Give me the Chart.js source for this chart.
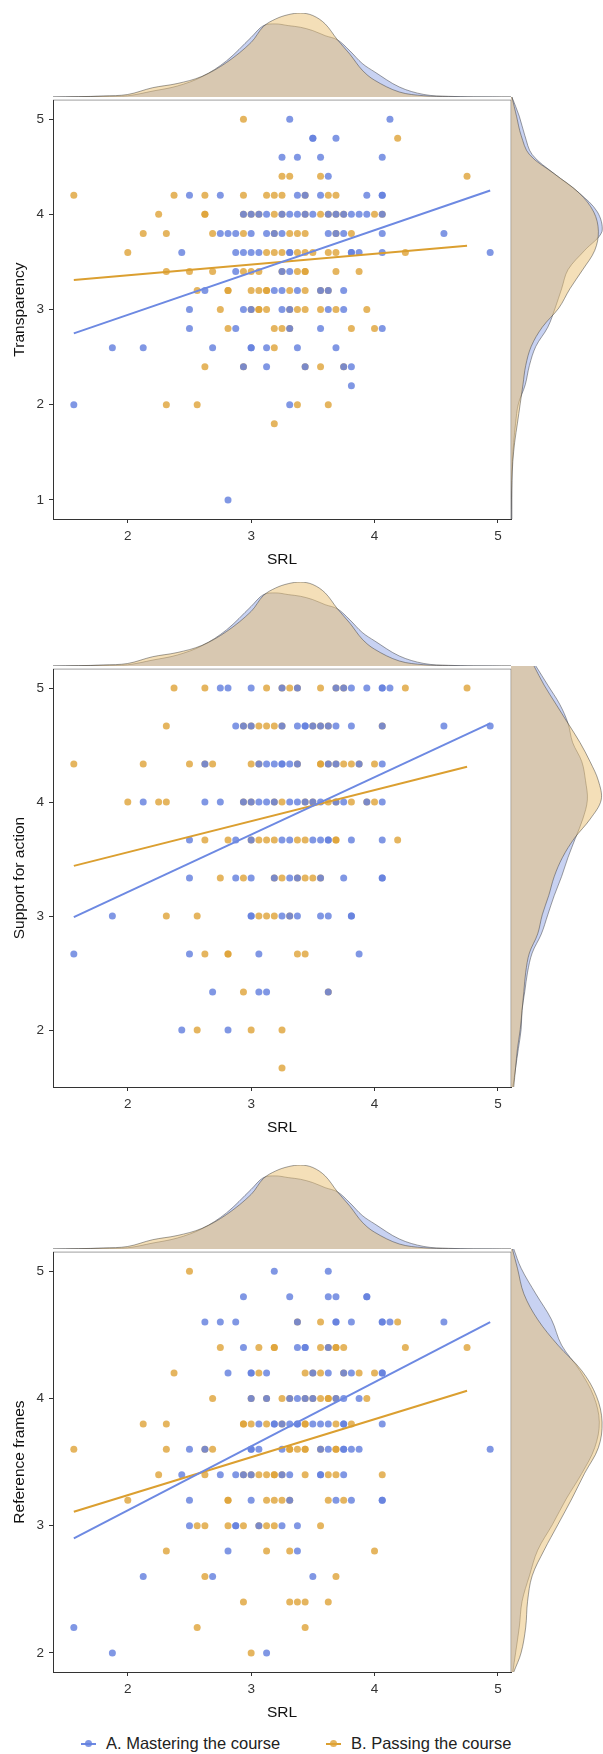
<!DOCTYPE html>
<html>
<head>
<meta charset="utf-8">
<script src="https://cdn.jsdelivr.net/npm/chart.js@4.4.1/dist/chart.umd.min.js"></script>
<style>
  html, body { margin: 0; padding: 0; background: #fff; }
  body { width: 603px; height: 1754px; position: relative; overflow: hidden;
         font-family: 'Liberation Sans', Arial, sans-serif; }
  .box { position: absolute; }
  .key { position: absolute; width: 15px; height: 8px; }
  .key .ln { position: absolute; left: 0; top: 3px; width: 15px; height: 2px; }
  .key .dt { position: absolute; left: 4px; top: 0; width: 7px; height: 7px; border-radius: 50%; }
  .lab { position: absolute; font-size: 16.5px; color: #222; line-height: 20px; white-space: nowrap; }
</style>
</head>
<body>
<script>
// SRL marginal density (shared by all three panels)
const srlGrid = [1.39, 1.6, 1.8, 2.0, 2.2, 2.4, 2.6, 2.8, 3.0, 3.1, 3.2, 3.3, 3.4, 3.5, 3.6, 3.7, 3.8, 3.9, 4.0, 4.2, 4.4, 4.6, 4.8, 5.11];
const srlDensityA = [0, 0.004, 0.008, 0.015, 0.07, 0.13, 0.24, 0.43, 0.71, 0.85, 0.87, 0.85, 0.83, 0.79, 0.73, 0.68, 0.55, 0.40, 0.30, 0.12, 0.03, 0.008, 0.002, 0];
const srlDensityB = [0, 0.004, 0.012, 0.03, 0.11, 0.16, 0.245, 0.41, 0.65, 0.84, 0.93, 0.98, 1.0, 0.97, 0.87, 0.68, 0.51, 0.32, 0.20, 0.06, 0.015, 0.004, 0, 0];

// Transparency
const transparencyTicks = [1, 2, 3, 4, 5];
const transparencyA = [
  [5.0, [3.3125, 4.125]],
  [4.8, [3.5, 3.5, 3.6875]],
  [4.6, [3.25, 3.375, 3.5625, 4.0625]],
  [4.4, [3.625]],
  [4.2, [2.5, 2.75, 3.375, 3.4375, 3.5625, 3.9375, 4.0625, 4.0625]],
  [4.0, [2.9375, 3.0, 3.0625, 3.125, 3.25, 3.3125, 3.375, 3.4375, 3.5, 3.625, 3.6875, 3.75, 3.8125, 3.875, 3.9375, 4.0625]],
  [3.8, [2.75, 2.8125, 2.875, 3.0, 3.125, 3.1875, 3.25, 3.625, 3.6875, 3.75, 4.0625, 4.5625]],
  [3.6, [2.4375, 2.875, 2.9375, 3.0, 3.0625, 3.3125, 3.3125, 3.8125, 3.8125, 3.875, 4.0625, 4.9375]],
  [3.4, [2.875, 3.25, 3.3125]],
  [3.2, [2.625, 3.1875, 3.25, 3.375, 3.5625, 3.625, 3.75]],
  [3.0, [2.5, 2.9375, 3.0, 3.25, 3.3125, 3.625, 3.75]],
  [2.8, [2.5, 2.875, 3.3125, 3.5625, 4.0625]],
  [2.6, [1.875, 2.125, 2.6875, 3.0, 3.0, 3.125, 3.375, 3.6875]],
  [2.4, [2.9375, 3.125, 3.4375, 3.75, 3.8125]],
  [2.2, [3.8125]],
  [2.0, [1.5625, 3.3125]],
  [1.0, [2.8125]]
];
const transparencyB = [
  [5.0, [2.9375]],
  [4.8, [4.1875]],
  [4.4, [3.25, 3.3125, 3.5625, 4.75]],
  [4.2, [1.5625, 2.375, 2.625, 2.9375, 3.125, 3.1875, 3.25, 3.4375, 3.625, 3.6875]],
  [4.0, [2.25, 2.625, 2.625, 2.9375, 3.0, 3.0625, 3.1875, 3.25, 3.4375, 3.5625, 3.625, 3.6875, 3.75, 4.0, 4.0625]],
  [3.8, [2.125, 2.3125, 2.6875, 2.9375, 3.1875, 3.3125, 3.375, 3.4375, 3.6875, 3.8125]],
  [3.6, [2.0, 3.125, 3.1875, 3.25, 3.375, 3.4375, 3.5, 3.625, 3.6875, 4.25]],
  [3.4, [2.3125, 2.5, 2.6875, 2.9375, 3.0, 3.0625, 3.25, 3.375, 3.4375, 3.4375, 3.6875, 3.875]],
  [3.2, [2.5625, 2.8125, 2.8125, 3.0, 3.0625, 3.125, 3.125, 3.3125, 3.4375, 3.5625, 3.625]],
  [3.0, [2.75, 3.0, 3.0625, 3.0625, 3.125, 3.3125, 3.375, 3.4375, 3.5625, 3.6875, 3.9375]],
  [2.8, [2.8125, 3.1875, 3.25, 3.3125, 3.8125, 4.0]],
  [2.6, [3.1875]],
  [2.4, [2.625, 2.9375, 3.4375, 3.5625, 3.75]],
  [2.0, [2.3125, 2.5625, 3.375, 3.625]],
  [1.8, [3.1875]]
];
const transparencyLineA = [[1.5625, 2.75], [4.9375, 4.25]];
const transparencyLineB = [[1.5625, 3.31], [4.75, 3.67]];
const transparencyGrid = [0.8, 1.0, 1.2, 1.4, 1.6, 1.8, 2.0, 2.2, 2.4, 2.6, 2.8, 3.0, 3.2, 3.4, 3.6, 3.8, 4.0, 4.2, 4.4, 4.6, 4.8, 5.0, 5.2];
const transparencyDensityA = [0.01, 0.01, 0.01, 0.015, 0.03, 0.05, 0.08, 0.155, 0.20, 0.27, 0.40, 0.48, 0.55, 0.62, 0.80, 0.99, 0.94, 0.74, 0.47, 0.23, 0.15, 0.09, 0.01];
const transparencyDensityB = [0.003, 0.005, 0.01, 0.02, 0.04, 0.07, 0.10, 0.13, 0.16, 0.22, 0.34, 0.52, 0.64, 0.78, 0.91, 0.95, 0.90, 0.74, 0.47, 0.20, 0.11, 0.06, 0.01];

// Support for action
const supportTicks = [2, 3, 4, 5];
const supportA = [
  [5.0, [2.75, 2.8125, 3.0, 3.25, 3.375, 3.6875, 3.75, 3.8125, 3.9375, 4.0625, 4.0625, 4.125]],
  [4.667, [2.875, 2.9375, 3.0, 3.25, 3.375, 3.4375, 3.4375, 3.5, 3.5625, 3.625, 3.6875, 3.8125, 4.0625, 4.5625, 4.9375]],
  [4.333, [2.625, 3.0625, 3.125, 3.1875, 3.25, 3.25, 3.3125, 3.375, 3.625, 3.6875, 3.875, 4.0625]],
  [4.0, [2.125, 2.625, 2.75, 2.9375, 3.0, 3.0625, 3.125, 3.1875, 3.3125, 3.375, 3.4375, 3.5, 3.5625, 3.6875, 3.75, 3.9375, 4.0625]],
  [3.667, [2.5, 2.875, 3.0, 3.25, 3.3125, 3.5, 3.5625, 3.625, 3.625, 3.8125, 4.0625]],
  [3.333, [2.5, 2.875, 3.0, 3.1875, 3.3125, 3.375, 3.5625, 3.75, 4.0625, 4.0625]],
  [3.0, [1.875, 3.0, 3.0, 3.25, 3.3125, 3.375, 3.5625, 3.625, 3.8125, 3.8125]],
  [2.667, [1.5625, 2.5, 3.0625, 3.875]],
  [2.333, [2.6875, 3.0625, 3.125, 3.625]],
  [2.0, [2.4375, 2.8125]]
];
const supportB = [
  [5.0, [2.375, 2.625, 3.125, 3.25, 3.3125, 3.375, 3.5625, 3.6875, 3.75, 4.25, 4.75]],
  [4.667, [2.3125, 2.9375, 3.0, 3.0625, 3.125, 3.1875, 3.25, 3.5, 3.5625, 3.625, 4.0625]],
  [4.333, [1.5625, 2.125, 2.5, 2.625, 2.6875, 3.0, 3.0625, 3.375, 3.5625, 3.5625, 3.625, 3.6875, 3.75, 3.8125, 3.875, 4.0]],
  [4.0, [2.0, 2.25, 2.3125, 2.9375, 3.0, 3.1875, 3.25, 3.4375, 3.5, 3.625, 3.6875, 3.8125, 3.9375, 4.0]],
  [3.667, [2.625, 2.8125, 3.0, 3.0625, 3.125, 3.1875, 3.375, 3.4375, 3.6875, 3.6875, 4.1875]],
  [3.333, [2.75, 2.9375, 3.1875, 3.25, 3.375, 3.4375, 3.5, 3.5625]],
  [3.0, [2.3125, 2.5625, 3.0625, 3.125, 3.1875, 3.3125]],
  [2.667, [2.625, 2.8125, 2.8125, 3.375, 3.4375]],
  [2.333, [2.9375, 3.625]],
  [2.0, [2.5625, 3.0, 3.25]],
  [1.667, [3.25]]
];
const supportLineA = [[1.5625, 2.99], [4.9375, 4.69]];
const supportLineB = [[1.5625, 3.44], [4.75, 4.31]];
const supportGrid = [1.5, 1.667, 1.833, 2.0, 2.167, 2.333, 2.5, 2.667, 2.833, 3.0, 3.167, 3.333, 3.5, 3.667, 3.833, 4.0, 4.167, 4.333, 4.5, 4.667, 4.833, 5.0, 5.167];
const supportDensityA = [0.02, 0.05, 0.08, 0.11, 0.12, 0.15, 0.18, 0.23, 0.33, 0.40, 0.47, 0.55, 0.62, 0.70, 0.78, 0.83, 0.81, 0.77, 0.67, 0.62, 0.53, 0.40, 0.27];
const supportDensityB = [0.03, 0.05, 0.07, 0.10, 0.12, 0.14, 0.16, 0.20, 0.29, 0.34, 0.41, 0.47, 0.56, 0.69, 0.86, 0.98, 0.95, 0.86, 0.75, 0.62, 0.49, 0.36, 0.25];

// Reference frames
const frameTicks = [2, 3, 4, 5];
const frameA = [
  [5.0, [3.1875, 3.625]],
  [4.8, [2.9375, 3.3125, 3.625, 3.6875, 3.9375, 3.9375]],
  [4.6, [2.625, 2.75, 2.875, 3.375, 3.6875, 3.6875, 3.8125, 4.0625, 4.0625, 4.125, 4.5625]],
  [4.4, [2.9375, 3.375, 3.4375, 3.4375, 3.625]],
  [4.2, [2.8125, 3.0, 3.0, 3.125, 3.5, 3.625, 3.75, 3.8125, 4.0625, 4.0625]],
  [4.0, [3.0, 3.125, 3.3125, 3.375, 3.4375, 3.5, 3.6875, 3.75, 3.875]],
  [3.8, [3.0625, 3.1875, 3.1875, 3.25, 3.3125, 3.375, 3.375, 3.5, 3.5625, 3.625, 3.75, 3.75, 4.0625]],
  [3.6, [2.5, 2.625, 3.0, 3.0, 3.0625, 3.25, 3.5625, 3.625, 3.75, 3.75, 3.8125, 3.875, 4.9375]],
  [3.4, [2.4375, 2.75, 2.875, 2.9375, 3.0, 3.25, 3.3125, 3.5625, 3.5625, 3.75]],
  [3.2, [2.5, 3.0, 3.3125, 3.6875, 3.8125, 4.0625, 4.0625]],
  [3.0, [2.5, 2.875, 2.875, 3.0625, 3.25, 3.375]],
  [2.8, [2.8125, 3.375]],
  [2.6, [2.125, 2.6875, 3.5]],
  [2.2, [1.5625]],
  [2.0, [1.875, 3.125]]
];
const frameB = [
  [5.0, [2.5]],
  [4.6, [3.375, 3.5625, 4.1875]],
  [4.4, [2.75, 3.0625, 3.1875, 3.1875, 3.5625, 3.625, 3.6875, 3.6875, 3.75, 4.25, 4.75]],
  [4.2, [2.375, 3.0625, 3.4375, 3.5, 3.5625, 3.75, 3.875, 4.0]],
  [4.0, [2.6875, 3.0, 3.125, 3.25, 3.3125, 3.4375, 3.5, 3.5625, 3.625, 3.625, 3.6875, 3.9375]],
  [3.8, [2.125, 2.3125, 2.9375, 2.9375, 3.0, 3.125, 3.25, 3.4375, 3.4375, 3.6875, 3.8125]],
  [3.6, [1.5625, 2.3125, 2.625, 2.6875, 3.3125, 3.3125, 3.375, 3.4375, 3.4375, 3.5625, 3.6875, 3.6875]],
  [3.4, [2.25, 2.625, 2.9375, 3.0, 3.0625, 3.125, 3.1875, 3.1875, 3.25, 3.4375, 3.625, 3.6875, 4.0625]],
  [3.2, [2.0, 2.8125, 2.8125, 3.125, 3.1875, 3.25, 3.3125, 3.625, 3.75]],
  [3.0, [2.5625, 2.625, 2.8125, 2.9375, 3.0625, 3.125, 3.1875, 3.5625]],
  [2.8, [2.3125, 3.125, 3.3125, 4.0]],
  [2.6, [2.625, 3.6875]],
  [2.4, [2.9375, 3.3125, 3.375, 3.4375, 3.625]],
  [2.2, [2.5625, 3.4375]],
  [2.0, [3.0]]
];
const frameLineA = [[1.5625, 2.90], [4.9375, 4.60]];
const frameLineB = [[1.5625, 3.11], [4.75, 4.06]];
const frameGrid = [1.85, 2.0, 2.2, 2.4, 2.6, 2.8, 3.0, 3.2, 3.4, 3.6, 3.8, 4.0, 4.2, 4.4, 4.6, 4.8, 5.0, 5.15];
const frameDensityA = [0.02, 0.05, 0.09, 0.12, 0.20, 0.29, 0.45, 0.60, 0.77, 0.91, 0.96, 0.90, 0.75, 0.55, 0.44, 0.27, 0.11, 0.03];
const frameDensityB = [0.03, 0.11, 0.16, 0.18, 0.23, 0.36, 0.51, 0.66, 0.80, 0.95, 0.99, 0.93, 0.77, 0.51, 0.29, 0.14, 0.07, 0.015];

const legendLabels = ['A. Mastering the course', 'B. Passing the course'];

// colours
const BLUE_LINE = '#6D89E2';
const ORANGE_LINE = '#DB9F30';
const BLUE_PT = 'rgba(100,128,222,0.82)';
const ORANGE_PT = 'rgba(222,163,55,0.8)';
const BLUE_FILL = 'rgba(118,142,222,0.4)';
const ORANGE_FILL = 'rgba(233,191,113,0.5)';
const OUTLINE = 'rgba(45,45,45,0.75)';

const SRL_MIN = 1.39375, SRL_MAX = 5.10625;
const PLOT_LEFT = 53, PLOT_RIGHT = 511, MARGIN = 84;

Chart.defaults.animation = false;
Chart.defaults.responsive = true;
Chart.defaults.maintainAspectRatio = false;
Chart.defaults.events = [];
Chart.defaults.font.family = "'Liberation Sans', Arial, sans-serif";
Chart.defaults.plugins.legend.display = false;
Chart.defaults.plugins.tooltip.enabled = false;

const panels = [
  { top: 97, height: 422, yMin: 0.8, yMax: 5.2, ticks: transparencyTicks, title: 'Transparency',
    A: transparencyA, B: transparencyB, lineA: transparencyLineA, lineB: transparencyLineB,
    grid: transparencyGrid, densA: transparencyDensityA, densB: transparencyDensityB },
  { top: 666, height: 421, yMin: 1.5, yMax: 5.1667, ticks: supportTicks, title: 'Support for action',
    A: supportA, B: supportB, lineA: supportLineA, lineB: supportLineB,
    grid: supportGrid, densA: supportDensityA, densB: supportDensityB },
  { top: 1249, height: 423, yMin: 1.85, yMax: 5.15, ticks: frameTicks, title: 'Reference frames',
    A: frameA, B: frameB, lineA: frameLineA, lineB: frameLineB,
    grid: frameGrid, densA: frameDensityA, densB: frameDensityB }
];

function addCanvas(left, top, width, height) {
  const d = document.createElement('div');
  d.className = 'box';
  d.style.cssText = `left:${left}px;top:${top}px;width:${width}px;height:${height}px`;
  const c = document.createElement('canvas');
  d.appendChild(c);
  document.body.appendChild(d);
  return c;
}

const rowsToPoints = (rows) => rows.flatMap(([v, xs]) => xs.map((x) => ({ x: x, y: v })));
const pairsToPoints = (pairs) => pairs.map(([x, y]) => ({ x: x, y: y }));

function densitySet(points, fill) {
  return {
    data: points,
    fill: 'origin',
    backgroundColor: fill,
    borderColor: OUTLINE,
    borderWidth: 0.6,
    tension: 0.35,
    pointRadius: 0
  };
}

// thin frame on the top and right edge of the scatter panel
const panelEdge = {
  id: 'panelEdge',
  afterDatasetsDraw(chart) {
    const { ctx, chartArea: a } = chart;
    ctx.save();
    ctx.strokeStyle = 'rgba(60,60,60,0.7)';
    ctx.lineWidth = 0.7;
    ctx.beginPath();
    ctx.moveTo(a.left, a.top);
    ctx.lineTo(a.right, a.top);
    ctx.lineTo(a.right, a.bottom);
    ctx.stroke();
    ctx.restore();
  }
};

panels.forEach((p) => {
  // main scatter
  const main = addCanvas(0, p.top - 10, 603, p.height + 65);
  new Chart(main, {
    type: 'scatter',
    data: {
      datasets: [
        { data: pairsToPoints(p.lineA), showLine: true, borderColor: BLUE_LINE, borderWidth: 2, pointRadius: 0 },
        { data: pairsToPoints(p.lineB), showLine: true, borderColor: ORANGE_LINE, borderWidth: 2, pointRadius: 0 },
        { data: rowsToPoints(p.A), pointRadius: 3.5, pointBackgroundColor: BLUE_PT, backgroundColor: BLUE_PT, pointBorderWidth: 0 },
        { data: rowsToPoints(p.B), pointRadius: 3.5, pointBackgroundColor: ORANGE_PT, backgroundColor: ORANGE_PT, pointBorderWidth: 0 }
      ]
    },
    options: {
      layout: { padding: { left: 0, right: 603 - PLOT_RIGHT, top: 10, bottom: 0 } },
      scales: {
        x: {
          type: 'linear', min: SRL_MIN, max: SRL_MAX,
          afterBuildTicks: (s) => { s.ticks = [2, 3, 4, 5].map((v) => ({ value: v })); },
          afterFit: (s) => { s.height = 55; },
          grid: { drawOnChartArea: false, drawTicks: true, tickLength: 4, color: '#333' },
          border: { display: true, color: '#333', width: 1 },
          ticks: { color: '#333', font: { size: 13.5 }, padding: 5, maxRotation: 0, autoSkip: false },
          title: { display: true, text: 'SRL', color: '#111', font: { size: 15.5 }, padding: { top: 0, bottom: 5 } }
        },
        y: {
          type: 'linear', min: p.yMin, max: p.yMax,
          afterBuildTicks: (s) => { s.ticks = p.ticks.map((v) => ({ value: v })); },
          afterFit: (s) => { s.width = PLOT_LEFT; },
          grid: { drawOnChartArea: false, drawTicks: true, tickLength: 4, color: '#333' },
          border: { display: true, color: '#333', width: 1 },
          ticks: { color: '#333', font: { size: 13.5 }, padding: 5, autoSkip: false },
          title: { display: true, text: p.title, color: '#111', font: { size: 15.5 }, padding: { top: 10, bottom: 0 } }
        }
      }
    },
    plugins: [panelEdge]
  });

  // top margin: SRL density
  const top = addCanvas(PLOT_LEFT, p.top - MARGIN, PLOT_RIGHT - PLOT_LEFT, MARGIN);
  new Chart(top, {
    type: 'line',
    data: {
      datasets: [
        densitySet(srlGrid.map((g, i) => ({ x: g, y: srlDensityB[i] })), ORANGE_FILL),
        densitySet(srlGrid.map((g, i) => ({ x: g, y: srlDensityA[i] })), BLUE_FILL)
      ]
    },
    options: {
      layout: { padding: 0 },
      scales: {
        x: { type: 'linear', min: SRL_MIN, max: SRL_MAX, display: false },
        y: { type: 'linear', min: 0, max: 1, display: false }
      }
    }
  });

  // right margin: density of the outcome
  const right = addCanvas(PLOT_RIGHT, p.top, 603 - PLOT_RIGHT, p.height);
  new Chart(right, {
    type: 'line',
    data: {
      datasets: [
        densitySet(p.grid.map((g, i) => ({ x: p.densB[i], y: g })), ORANGE_FILL),
        densitySet(p.grid.map((g, i) => ({ x: p.densA[i], y: g })), BLUE_FILL)
      ]
    },
    options: {
      indexAxis: 'y',
      layout: { padding: 0 },
      scales: {
        x: { type: 'linear', min: 0, max: 1, display: false },
        y: { type: 'linear', min: p.yMin, max: p.yMax, display: false }
      }
    }
  });
});

// legend
const legendItems = [
  { key: 81, text: 106, line: BLUE_LINE, dot: BLUE_PT },
  { key: 326, text: 351, line: ORANGE_LINE, dot: ORANGE_PT }
];
legendItems.forEach((it, i) => {
  const k = document.createElement('div');
  k.className = 'key';
  k.style.left = it.key + 'px';
  k.style.top = '1740px';
  k.innerHTML = `<div class="ln" style="background:${it.line}"></div><div class="dt" style="background:${it.dot}"></div>`;
  document.body.appendChild(k);
  const t = document.createElement('div');
  t.className = 'lab';
  t.style.left = it.text + 'px';
  t.style.top = '1733px';
  t.textContent = legendLabels[i];
  document.body.appendChild(t);
});
</script>
</body>
</html>
